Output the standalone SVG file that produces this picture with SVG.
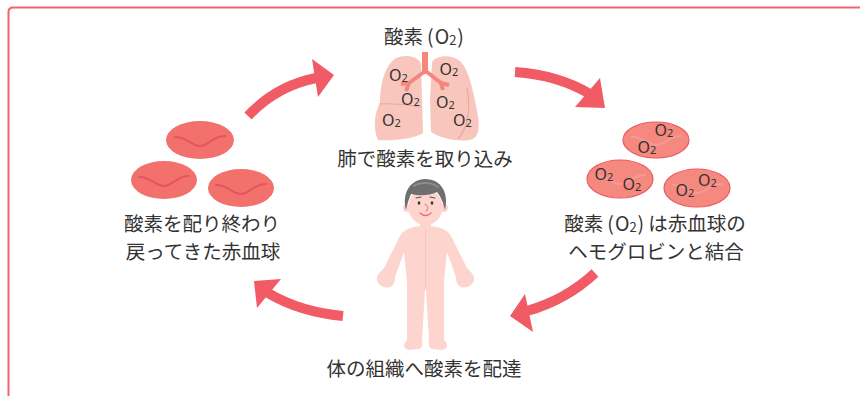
<svg xmlns="http://www.w3.org/2000/svg" width="860" height="396" viewBox="0 0 860 396">
  <style>
    .lbl { font-family: "Noto Sans CJK JP", "Noto Sans", sans-serif; font-size: 19.5px; fill: #333333; text-anchor: middle; }
    .o2 { font-family: "Noto Sans", "Liberation Sans", sans-serif; font-size: 16px; fill: #333333; text-anchor: middle; }
    .sub { font-size: 11px; }
    .sub2 { font-size: 13px; }
    .arrow-body { fill: none; stroke: #f05b65; stroke-width: 10; }
    .arrow-head { fill: #f05b65; }
    .lung { fill: #f9c6bd; }
    .fissure { fill: none; stroke: #efa79c; stroke-width: 1.2; }
    .bronchus { fill: none; stroke: #f3877d; stroke-width: 4; stroke-linecap: butt; stroke-linejoin: round; }
    .cell-red { fill: #f2716d; }
    .wave-red { fill: none; stroke: #e4555d; stroke-width: 2.2; stroke-linecap: round; }
    .cell-ox { fill: #f5887f; stroke: #ea5a62; stroke-width: 1.2; }
    .wave-ox { fill: none; stroke: #f39b92; stroke-width: 2.2; stroke-linecap: round; }
    .skin { fill: #fdd5ce; }
  </style>

  <!-- outer frame: only the top and left edges fall inside the canvas -->
  <path id="frame" d="M 8.5,396 L 8.5,12 Q 8.5,7.5 13,7.5 L 860,7.5" fill="none" stroke="#f0646c" stroke-width="2"/>

  <!-- circulation arrows -->
  <g id="connectors">
    <path class="arrow-body" d="M 248,116 Q 276,86 316,78"/>
    <polygon class="arrow-head" points="312,59 334,75 318,97"/>

    <path class="arrow-body" d="M 515,72 Q 558,75 590,94"/>
    <polygon class="arrow-head" points="600,78 605,108 575,107"/>

    <path class="arrow-body" d="M 595,273 Q 566,300 527,311"/>
    <polygon class="arrow-head" points="525,294 510,316 533,332"/>

    <path class="arrow-body" d="M 343,316 Q 300,312 268,293"/>
    <polygon class="arrow-head" points="281,279 254,281 257,308"/>
  </g>

  <!-- lungs -->
  <g id="node-lungs">
    <text class="lbl" x="424" y="44">酸素<tspan dx="4">(</tspan><tspan dx="1">O</tspan><tspan class="sub2" dy="1">2</tspan><tspan dx="1" dy="-1">)</tspan></text>
    <path class="lung" d="M 396,58 C 405,54 417,56 421,63 L 423,133 C 414,139 394,141 378,140 C 373,128 374,114 380,103 C 380,84 385,65 396,58 Z"/>
    <path class="lung" d="M 432,62 C 436,55 452,54 460,61 C 470,71 474,95 478,116 C 480,130 478,138 470,140 C 455,142 440,138 431,132 L 430,100 Z"/>
    <path class="fissure" d="M 379,104 C 392,103 408,105 422,107"/>
    <path class="fissure" d="M 467,88 C 470,105 470,125 458,139"/>
    <rect x="422" y="52" width="6" height="22" fill="#f3877d"/>
    <path class="bronchus" d="M 424,72 L 409,83 L 406,91"/>
    <path class="bronchus" d="M 409,83 L 401,84"/>
    <path class="bronchus" d="M 427,72 L 441,83 L 443,90"/>
    <path class="bronchus" d="M 441,83 L 449,85"/>
    <text class="o2" x="398.5" y="81">O<tspan class="sub" dy="1">2</tspan></text>
    <text class="o2" x="449" y="75">O<tspan class="sub" dy="1">2</tspan></text>
    <text class="o2" x="410.5" y="105">O<tspan class="sub" dy="1">2</tspan></text>
    <text class="o2" x="445.5" y="108">O<tspan class="sub" dy="1">2</tspan></text>
    <text class="o2" x="391.5" y="126">O<tspan class="sub" dy="1">2</tspan></text>
    <text class="o2" x="462.5" y="126">O<tspan class="sub" dy="1">2</tspan></text>
    <text class="lbl" x="425" y="166">肺で酸素を取り込み</text>
  </g>

  <!-- oxygen-carrying red blood cells -->
  <g id="node-oxygenated">
    <ellipse class="cell-ox" cx="656" cy="140" rx="33" ry="18"/>
    <path class="wave-ox" d="M 632,137 C 645,137 647,145 656,145 C 665,145 668,136 681,136"/>
    <ellipse class="cell-ox" cx="620" cy="179" rx="33" ry="19"/>
    <path class="wave-ox" d="M 596,176 C 609,176 611,184 620,184 C 629,184 632,175 645,175"/>
    <ellipse class="cell-ox" cx="697" cy="188" rx="33" ry="19"/>
    <path class="wave-ox" d="M 673,185 C 686,185 688,193 697,193 C 706,193 709,184 722,184"/>
    <text class="o2" x="664" y="135.5">O<tspan class="sub" dy="1">2</tspan></text>
    <text class="o2" x="647" y="153">O<tspan class="sub" dy="1">2</tspan></text>
    <text class="o2" x="604" y="180">O<tspan class="sub" dy="1">2</tspan></text>
    <text class="o2" x="632" y="190">O<tspan class="sub" dy="1">2</tspan></text>
    <text class="o2" x="685" y="196">O<tspan class="sub" dy="1">2</tspan></text>
    <text class="o2" x="707.5" y="186">O<tspan class="sub" dy="1">2</tspan></text>
    <text class="lbl" x="655" y="231">酸素<tspan dx="4">(</tspan><tspan dx="1">O</tspan><tspan class="sub2" dy="1">2</tspan><tspan dx="1" dy="-1">)</tspan><tspan dx="4">は赤血球の</tspan></text>
    <text class="lbl" x="656" y="259">ヘモグロビンと結合</text>
  </g>

  <!-- person -->
  <g id="node-body">
    <path class="skin" d="M 420,220 L 420,226 C 412,227 404,229 400,236 L 384,268 C 380,272 376,276 377,280 C 378,285 384,289 390,287 C 394,285 395,281 395,277 L 404,252 L 407,282 L 407,340 C 403,344 402,349 410,350 L 419,349 C 422,348 423,344 422,340 L 425,290 L 426,290 L 429,340 C 428,344 429,348 432,349 L 441,350 C 449,349 448,344 444,340 L 444,282 L 447,252 L 456,277 C 456,281 457,285 461,287 C 467,289 473,285 474,280 C 475,276 471,272 467,268 L 451,236 C 447,229 439,227 431,226 L 431,220 Z"/>
    <path d="M 425.5,230 L 425.5,288" fill="none" stroke="#f6c3ba" stroke-width="0.8"/>
    <circle class="skin" cx="407" cy="208" r="4"/>
    <circle class="skin" cx="444" cy="208" r="4"/>
    <ellipse class="skin" cx="425.5" cy="207" rx="17" ry="18"/>
    <path d="M 406,210 C 402,194 409,180 425,179 C 442,179 449,194 445,210 C 443,202 441,197 437,192 C 429,196 419,196 411,194 C 409,199 407,204 406,210 Z" fill="#6f6f6f"/>
    <path d="M 414,186 C 420,182 432,182 438,187" fill="none" stroke="#8d8d8d" stroke-width="2" stroke-linecap="round"/>
    <path d="M 416,198 L 421,197 M 430,197 L 435,198" stroke="#555555" stroke-width="1.1" stroke-linecap="round"/>
    <ellipse cx="419" cy="203" rx="1.3" ry="1.8" fill="#333333"/>
    <ellipse cx="432" cy="203" rx="1.3" ry="1.8" fill="#333333"/>
    <path d="M 425,204 C 428,206 429,209 426,211" fill="none" stroke="#ee8d85" stroke-width="1.2" stroke-linecap="round"/>
    <path d="M 420,213 Q 425.5,218 431,213" fill="none" stroke="#ee6f70" stroke-width="1.4" stroke-linecap="round"/>
    <text class="lbl" x="424" y="376">体の組織へ酸素を配達</text>
  </g>

  <!-- returning red blood cells -->
  <g id="node-returning">
    <ellipse class="cell-red" cx="200" cy="140" rx="34" ry="19"/>
    <path class="wave-red" d="M 175,137 C 188,137 191,146 200,146 C 209,146 212,136 225,136"/>
    <ellipse class="cell-red" cx="164" cy="180" rx="33" ry="19"/>
    <path class="wave-red" d="M 139,177 C 152,177 155,186 164,186 C 173,186 176,176 189,176"/>
    <ellipse class="cell-red" cx="241" cy="188" rx="33" ry="19"/>
    <path class="wave-red" d="M 216,185 C 229,185 232,194 241,194 C 250,194 253,184 266,184"/>
    <text class="lbl" x="202" y="231">酸素を配り終わり</text>
    <text class="lbl" x="203" y="259">戻ってきた赤血球</text>
  </g>
</svg>
